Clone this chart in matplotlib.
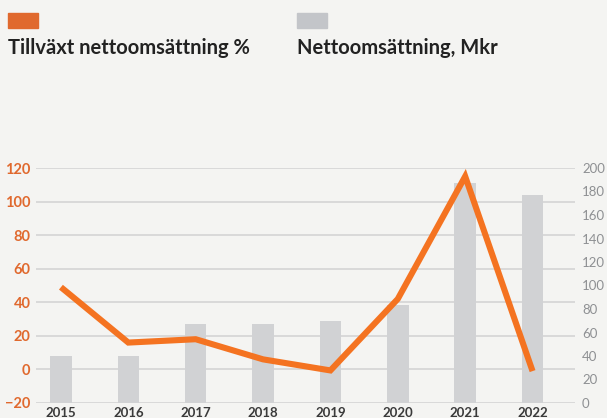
import numpy as np
import matplotlib.pyplot as plt
from matplotlib.patches import Rectangle

# Data
years = ['2015', '2016', '2017', '2018', '2019', '2020', '2021', '2022']
growth_pct = [49, 16, 18, 6, -0.6, 42, 115, -1]         # Tillväxt nettoomsättning %
sales_mkr = [40, 40, 67, 67, 70, 83, 187, 177]          # Nettoomsättning, Mkr
left_ticks = [-20, 0, 20, 40, 60, 80, 100, 120]
right_ticks = [0, 20, 40, 60, 80, 100, 120, 140, 160, 180, 200]

bg = '#f4f4f2'
orange = '#f47321'
orange_dark = '#e0692e'
bar_grey = '#d1d2d4'
legend_grey = '#c3c5c9'

plt.rcParams['font.family'] = ['Lato', 'DejaVu Sans']

fig = plt.figure(figsize=(6.07, 4.18), dpi=100, facecolor=bg)
ax = fig.add_axes([36 / 607, 15 / 418, (575 - 36) / 607, (403 - 168) / 418])
ax.set_facecolor(bg)
ax2 = ax.twinx()
ax.set_zorder(0)
ax2.set_zorder(1)
ax2.patch.set_visible(False)

x = np.arange(len(years))

# gridlines on left axis (behind bars)
ax.set_ylim(-20, 120)
ax.set_yticks(left_ticks)
ax.grid(axis='y', color='#d2d2d2', linewidth=1.1)
ax.set_axisbelow(True)

# bars on right axis
ax2.bar(x, sales_mkr, width=0.32, color=bar_grey, zorder=2)
ax2.set_ylim(0, 200)
ax2.set_yticks(right_ticks)

# growth line on top, drawn in left-axis units
ax2.plot(x, growth_pct, color=orange, linewidth=4.4, solid_joinstyle='miter',
         solid_capstyle='butt', transform=ax.transData, zorder=3, clip_on=False)

ax.set_xlim(-0.37, 7.63)
ax.set_xticks(x)
ax.set_xticklabels(years)

for a in (ax, ax2):
    for s in a.spines.values():
        s.set_visible(False)

ax.tick_params(axis='y', length=0, pad=4, labelsize=10.5, labelcolor=orange_dark)
for lab in ax.get_yticklabels():
    lab.set_fontweight('bold')
ax2.tick_params(axis='y', length=0, pad=5, labelsize=9.5, labelcolor='#8e9093')
ax.tick_params(axis='x', length=0, pad=3, labelsize=9.5, labelcolor='#3a3a3a')
for lab in ax.get_xticklabels():
    lab.set_fontweight('bold')

# legend at the top
fig.add_artist(Rectangle((8 / 607, 1 - 28 / 418), 30 / 607, 15 / 418,
                         transform=fig.transFigure, color=orange_dark))
fig.add_artist(Rectangle((297 / 607, 1 - 28 / 418), 30 / 607, 15 / 418,
                         transform=fig.transFigure, color=legend_grey))
fig.text(8 / 607, 1 - 54 / 418, 'Tillväxt nettoomsättning %', fontsize=14.5,
         fontweight='bold', color='#222222', va='baseline')
fig.text(297 / 607, 1 - 54 / 418, 'Nettoomsättning, Mkr', fontsize=14.5,
         fontweight='bold', color='#222222', va='baseline')

fig.savefig('out.png', dpi=100, facecolor=bg)
